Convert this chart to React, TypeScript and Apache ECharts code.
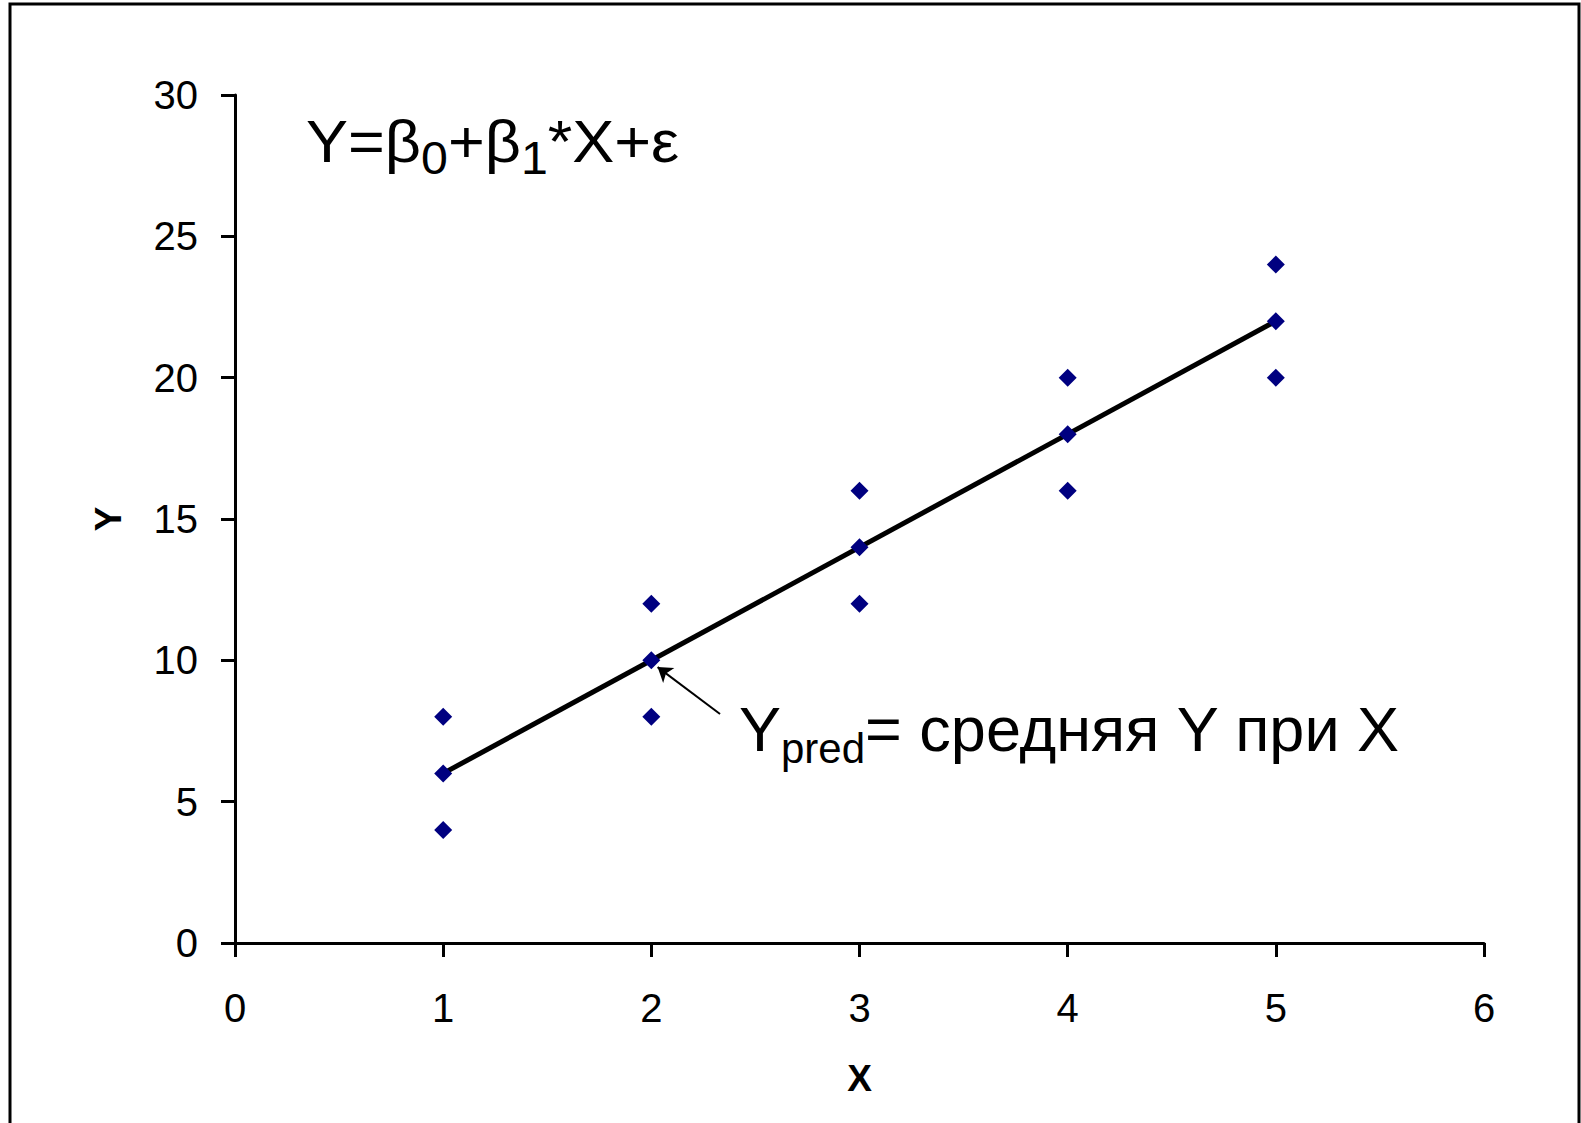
import React, { useEffect, useRef } from "react";
import * as echarts from "echarts";

// ---- data ----
const xMin = 0;
const xMax = 6;
const xStep = 1;
const yMin = 0;
const yMax = 30;
const yStep = 5;
const obsX = [1, 1, 1, 2, 2, 2, 3, 3, 3, 4, 4, 4, 5, 5, 5];
const obsY = [4, 6, 8, 8, 10, 12, 12, 14, 16, 16, 18, 20, 20, 22, 24];
const fitX = [1, 5];
const fitY = [6, 22];
const arrowFrom = [2.33, 8.1];
const arrowTo = [2.03, 9.76];
const xTitle = "X";
const yTitle = "Y";
const formulaText = "{m|Y=β}{s|0}{m|+β}{s|1}{m|*X+ε}";
const noteText = "{m|Y}{s|pred}{m|= средняя Y при X}";

const FONT = "'Liberation Sans', Arial, sans-serif";

export default function App() {
  const ref = useRef<HTMLDivElement>(null);
  useEffect(() => {
    if (!ref.current) return;
    const chart = echarts.init(ref.current, undefined, { renderer: "svg" });
    const scatterData = obsX.map((x, i) => [x, obsY[i]]);
    const fitData = fitX.map((x, i) => [x, fitY[i]]);
    chart.setOption({
      animation: false,
      backgroundColor: "#ffffff",
      textStyle: { fontFamily: FONT },
      grid: { left: 235, top: 95, right: 97, bottom: 180, containLabel: false },
      xAxis: {
        type: "value",
        min: xMin,
        max: xMax,
        interval: xStep,
        name: xTitle,
        nameLocation: "middle",
        nameGap: 117,
        nameTextStyle: { fontFamily: FONT, fontSize: 37, fontWeight: "bold", color: "#000" },
        axisLine: { show: true, onZero: false, lineStyle: { color: "#000", width: 3 } },
        axisTick: { show: true, inside: false, length: 14, lineStyle: { color: "#000", width: 3 } },
        axisLabel: { fontFamily: FONT, fontSize: 40, color: "#000", margin: 45 },
        splitLine: { show: false },
      },
      yAxis: {
        type: "value",
        min: yMin,
        max: yMax,
        interval: yStep,
        name: yTitle,
        nameLocation: "middle",
        nameGap: 108,
        nameRotate: 90,
        nameTextStyle: { fontFamily: FONT, fontSize: 37, fontWeight: "bold", color: "#000" },
        axisLine: { show: true, onZero: false, lineStyle: { color: "#000", width: 3 } },
        axisTick: { show: true, inside: false, length: 14, lineStyle: { color: "#000", width: 3 } },
        axisLabel: { fontFamily: FONT, fontSize: 40, color: "#000", margin: 37 },
        splitLine: { show: false },
      },
      series: [
        {
          type: "line",
          data: fitData,
          showSymbol: false,
          symbol: "none",
          lineStyle: { color: "#000", width: 5 },
          z: 2,
        },
        {
          type: "scatter",
          data: scatterData,
          symbol: "diamond",
          symbolSize: 18,
          itemStyle: { color: "#000080", opacity: 1 },
          z: 3,
          markLine: {
            silent: true,
            symbol: ["none", "arrow"],
            symbolSize: 14,
            label: { show: false },
            lineStyle: { color: "#000", width: 2, type: "solid" },
            data: [[{ coord: arrowFrom }, { coord: arrowTo }]],
          },
        },
      ],
      graphic: [
        {
          type: "rect",
          shape: { x: 10, y: 4, width: 1569, height: 1130 },
          style: { fill: "none", stroke: "#000", lineWidth: 3 },
          silent: true,
        },
        {
          type: "text",
          x: 306,
          y: 101,
          scaleX: 1.05,
          style: {
            text: formulaText,
            fill: "#000",
            rich: {
              m: { fontFamily: FONT, fontSize: 60, lineHeight: 80, fill: "#000" },
              s: { fontFamily: FONT, fontSize: 46, lineHeight: 46, verticalAlign: "bottom", fill: "#000" },
            },
          },
        },
        {
          type: "text",
          x: 739,
          y: 689,
          style: {
            text: noteText,
            fill: "#000",
            rich: {
              m: { fontFamily: FONT, fontSize: 63, lineHeight: 80, fill: "#000" },
              s: { fontFamily: FONT, fontSize: 42, lineHeight: 42, verticalAlign: "bottom", fill: "#000" },
            },
          },
        },
      ],
    });
    return () => chart.dispose();
  }, []);
  return (
    <div
      ref={ref}
      style={{ position: "absolute", left: 0, top: 0, width: 1581, height: 1123 }}
    />
  );
}
